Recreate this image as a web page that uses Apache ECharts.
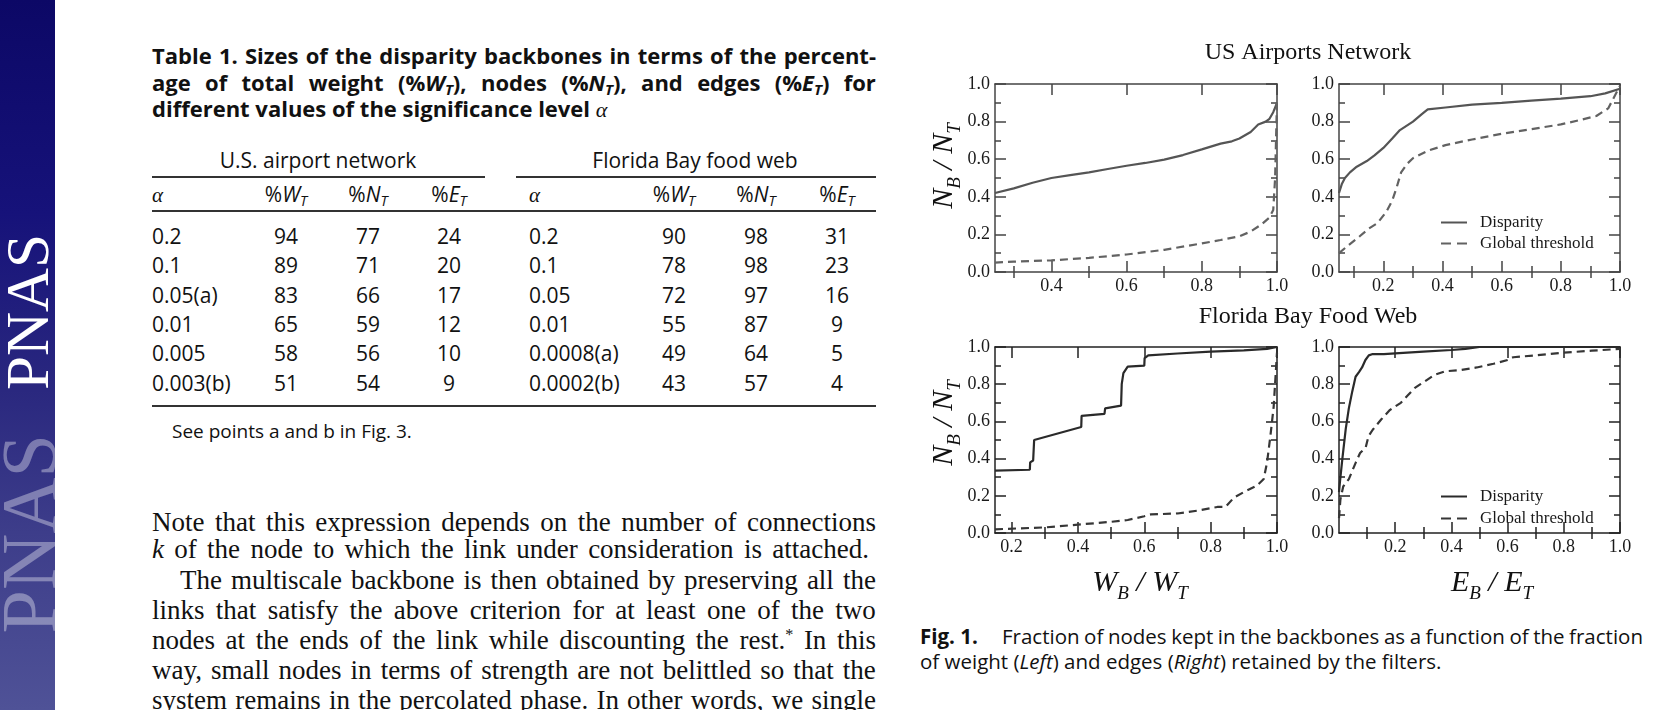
<!DOCTYPE html>
<html><head><meta charset="utf-8">
<script src="https://cdn.jsdelivr.net/npm/echarts@6/dist/echarts.min.js"></script>
<style>
html,body{margin:0;padding:0;width:1662px;height:710px;overflow:hidden;background:#fff;}
#chart{position:absolute;left:0;top:0;width:1662px;height:710px;z-index:2;pointer-events:none;}
.t{position:absolute;white-space:nowrap;color:#111;}
.hl{position:absolute;background:#333;}
#side{position:absolute;left:0;top:0;width:55px;height:710px;overflow:hidden;
 background:linear-gradient(to bottom,#0c0866 0%,#16127a 30%,#2a287f 55%,#3d3d8a 75%,#4f5297 100%);}
.pnas{position:absolute;left:0;width:55px;writing-mode:vertical-rl;transform:rotate(180deg);
 font-family:"Liberation Serif",serif;line-height:55px;}
sub{font-size:0.68em;vertical-align:-0.28em;line-height:0;}
sup{font-size:0.6em;vertical-align:0.55em;line-height:0;}
</style></head>
<body>
<div id="side"><div class="pnas" style="top:234px;font-size:61px;color:#ffffff">PNAS</div><div class="pnas" style="top:434px;font-size:78px;line-height:58px;color:rgba(255,255,255,0.36)">PNAS</div></div>
<div id="chart"></div>
<script>
// ---------- table data ----------
const alphaUS = ['0.2','0.1','0.05(a)','0.01','0.005','0.003(b)'];
const usWT = [94,89,83,65,58,51];
const usNT = [77,71,66,59,56,54];
const usET = [24,20,17,12,10,9];
const alphaFB = ['0.2','0.1','0.05','0.01','0.0008(a)','0.0002(b)'];
const fbWT = [90,78,72,55,49,43];
const fbNT = [98,98,97,87,64,57];
const fbET = [31,23,16,9,5,4];

// ---------- figure data: [fraction on x, N_B/N_T] ----------
const usWeightDisparity = [[0.25,0.42],[0.3,0.445],[0.35,0.475],[0.4,0.5],[0.45,0.515],[0.5,0.53],[0.55,0.548],[0.6,0.565],[0.65,0.58],[0.7,0.598],[0.75,0.622],[0.8,0.652],[0.85,0.683],[0.88,0.695],[0.9,0.71],[0.93,0.745],[0.95,0.785],[0.97,0.8],[0.98,0.815],[0.99,0.85],[1.0,0.9]];
const usWeightGlobal = [[0.25,0.05],[0.3,0.055],[0.4,0.062],[0.5,0.075],[0.6,0.093],[0.7,0.118],[0.8,0.152],[0.85,0.17],[0.9,0.19],[0.93,0.215],[0.96,0.255],[0.98,0.29],[0.99,0.33],[0.995,0.5],[0.998,0.75],[1.0,0.92]];
const usEdgeDisparity = [[0.05,0.42],[0.06,0.47],[0.07,0.5],[0.087,0.53],[0.11,0.56],[0.144,0.59],[0.17,0.62],[0.2,0.66],[0.23,0.71],[0.256,0.755],[0.3,0.8],[0.33,0.84],[0.35,0.865],[0.41,0.875],[0.5,0.89],[0.6,0.9],[0.7,0.912],[0.8,0.922],[0.9,0.935],[0.95,0.95],[1.0,0.975]];
const usEdgeGlobal = [[0.05,0.1],[0.08,0.14],[0.12,0.19],[0.15,0.23],[0.18,0.26],[0.21,0.32],[0.23,0.38],[0.245,0.45],[0.26,0.53],[0.28,0.575],[0.3,0.605],[0.35,0.645],[0.41,0.675],[0.5,0.705],[0.6,0.735],[0.7,0.76],[0.8,0.785],[0.87,0.81],[0.92,0.83],[0.96,0.87],[1.0,0.99]];
const fbWeightDisparity = [[0.15,0.335],[0.255,0.34],[0.256,0.38],[0.265,0.39],[0.268,0.5],[0.41,0.57],[0.411,0.63],[0.48,0.64],[0.482,0.67],[0.53,0.685],[0.532,0.8],[0.537,0.86],[0.55,0.895],[0.6,0.9],[0.601,0.94],[0.612,0.955],[0.7,0.965],[0.8,0.975],[0.9,0.982],[0.97,0.99],[1.0,1.0]];
const fbWeightGlobal = [[0.15,0.02],[0.3,0.03],[0.4,0.045],[0.5,0.06],[0.55,0.07],[0.6,0.09],[0.62,0.1],[0.7,0.105],[0.76,0.12],[0.82,0.14],[0.845,0.14],[0.87,0.19],[0.9,0.22],[0.94,0.255],[0.96,0.29],[0.97,0.38],[0.98,0.52],[0.99,0.68],[1.0,0.97]];
const fbEdgeDisparity = [[0.0,0.22],[0.003,0.27],[0.012,0.4],[0.024,0.56],[0.035,0.67],[0.047,0.76],[0.059,0.84],[0.071,0.865],[0.082,0.89],[0.094,0.93],[0.106,0.955],[0.12,0.962],[0.16,0.962],[0.2,0.966],[0.3,0.975],[0.4,0.984],[0.45,0.99],[0.5,1.0],[1.0,1.0]];
const fbEdgeGlobal = [[0.0,0.08],[0.005,0.18],[0.015,0.25],[0.035,0.29],[0.06,0.38],[0.075,0.43],[0.095,0.46],[0.105,0.52],[0.12,0.555],[0.15,0.61],[0.18,0.66],[0.22,0.7],[0.245,0.74],[0.27,0.78],[0.29,0.8],[0.34,0.85],[0.38,0.87],[0.43,0.875],[0.49,0.89],[0.55,0.91],[0.6,0.93],[0.62,0.945],[0.7,0.955],[0.8,0.97],[0.9,0.98],[1.0,0.99]];

// ---------- tick values ----------
const ticksUSWMajor = [0.4,0.6,0.8,1.0], ticksUSWMinor = [0.3,0.5,0.7,0.9];
const ticksUSEMajor = [0.2,0.4,0.6,0.8,1.0], ticksUSEMinor = [0.1,0.3,0.5,0.7,0.9];
const ticksFBWMajor = [0.2,0.4,0.6,0.8,1.0], ticksFBWMinor = [0.3,0.5,0.7,0.9];
const ticksFBEMajor = [0.2,0.4,0.6,0.8,1.0], ticksFBEMinor = [0.1,0.3,0.5,0.7,0.9];

// ---------- page text (HTML) ----------
function addLine(html, x, y, opts) {
  const o = Object.assign({lh: 28, font: '20px "Open Sans"', justify: 0, center: false}, opts || {});
  const d = document.createElement('div');
  d.className = 't';
  d.style.font = o.font;
  d.style.lineHeight = o.lh + 'px';
  d.style.height = o.lh + 'px';
  d.style.top = (y - o.lh / 2) + 'px';
  d.style.left = x + 'px';
  if (o.center) d.style.transform = 'translateX(-50%)';
  if (o.justify) {
    d.style.width = o.justify + 'px';
    d.style.display = 'flex';
    d.style.justifyContent = 'space-between';
    d.innerHTML = html.split(' ').map(s => '<span>' + s + '</span>').join('');
  } else d.innerHTML = html;
  document.body.appendChild(d);
}
function hline(x, y, w, h) {
  const d = document.createElement('div');
  d.className = 'hl';
  d.style.left = x + 'px'; d.style.top = y + 'px'; d.style.width = w + 'px'; d.style.height = h + 'px';
  document.body.appendChild(d);
}
const TB = 'bold 22px "Open Sans"';
addLine('Table 1. Sizes of the disparity backbones in terms of the percent-', 152, 55, {font: TB, justify: 724});
addLine('age of total weight (%<i>W<sub>T</sub></i>), nodes (%<i>N<sub>T</sub></i>), and edges (%<i>E<sub>T</sub></i>) for', 152, 82, {font: TB, justify: 724});
addLine('different values of the significance level <span style="font:italic 22px \'Liberation Serif\'">α</span>', 152, 108, {font: TB});

const TF = '21px "Open Sans"';
addLine('U.S. airport network', 318, 160, {font: TF, center: true});
addLine('Florida Bay food web', 695, 160, {font: TF, center: true});
hline(152, 176, 333, 1.5);
hline(516, 176, 360, 1.5);
const aH = '<span style="font:italic 21px \'Liberation Serif\'">α</span>';
addLine(aH, 152, 194, {font: TF});
addLine(aH, 529, 194, {font: TF});
const hdr = ['%<i>W<sub>T</sub></i>', '%<i>N<sub>T</sub></i>', '%<i>E<sub>T</sub></i>'];
const colUS = [286, 368, 449], colFB = [674, 756, 837];
hdr.forEach((h, i) => { addLine(h, colUS[i], 194, {font: TF, center: true}); addLine(h, colFB[i], 194, {font: TF, center: true}); });
hline(152, 210, 724, 1.5);
const rowY = [236, 265, 295, 324, 353, 383];
rowY.forEach((y, r) => {
  addLine(alphaUS[r], 152, y, {font: TF});
  [usWT, usNT, usET].forEach((arr, c) => addLine(String(arr[r]), colUS[c], y, {font: TF, center: true}));
  addLine(alphaFB[r], 529, y, {font: TF});
  [fbWT, fbNT, fbET].forEach((arr, c) => addLine(String(arr[r]), colFB[c], y, {font: TF, center: true}));
});
hline(152, 405, 724, 2);
addLine('See points a and b in Fig. 3.', 172, 431, {font: '19px "Open Sans"'});

const BF = '27px "Liberation Serif"';
addLine('Note that this expression depends on the number of connections', 152, 522, {font: BF, lh: 30, justify: 724});
addLine('<i>k</i> of the node to which the link under consideration is attached.', 152, 549, {font: BF, lh: 30, justify: 717});
addLine('The multiscale backbone is then obtained by preserving all the', 180, 580, {font: BF, lh: 30, justify: 696});
addLine('links that satisfy the above criterion for at least one of the two', 152, 610, {font: BF, lh: 30, justify: 724});
addLine('nodes at the ends of the link while discounting the rest.<sup>*</sup> In this', 152, 640, {font: BF, lh: 30, justify: 724});
addLine('way, small nodes in terms of strength are not belittled so that the', 152, 670, {font: BF, lh: 30, justify: 724});
addLine('system remains in the percolated phase. In other words, we single', 152, 700, {font: BF, lh: 30, justify: 724});

const CF = '20.5px "Open Sans"';
addLine('<b>Fig. 1.</b>', 920, 636, {font: CF, lh: 26});
addLine('Fraction of nodes kept in the backbones as a function of the fraction', 1002, 636, {font: CF, lh: 26, justify: 641});
addLine('of weight (<i>Left</i>) and edges (<i>Right</i>) retained by the filters.', 920, 661, {font: CF, lh: 26});

// ---------- ECharts figure ----------
const panels = [
  {grid: {left: 995, top: 84, width: 282, height: 188}, xMin: 0.25, xMax: 1.0, major: ticksUSWMajor, minor: ticksUSWMinor, disp: usWeightDisparity, glob: usWeightGlobal, solid: '#555', dash: '#626262', frame: '#444'},
  {grid: {left: 1339, top: 84, width: 281, height: 188}, xMin: 0.05, xMax: 1.0, major: ticksUSEMajor, minor: ticksUSEMinor, disp: usEdgeDisparity, glob: usEdgeGlobal, solid: '#555', dash: '#626262', frame: '#444'},
  {grid: {left: 995, top: 347, width: 282, height: 186}, xMin: 0.15, xMax: 1.0, major: ticksFBWMajor, minor: ticksFBWMinor, disp: fbWeightDisparity, glob: fbWeightGlobal, solid: '#2a2a2a', dash: '#363636', frame: '#222'},
  {grid: {left: 1339, top: 347, width: 281, height: 186}, xMin: 0.0, xMax: 1.0, major: ticksFBEMajor, minor: ticksFBEMinor, disp: fbEdgeDisparity, glob: fbEdgeGlobal, solid: '#2a2a2a', dash: '#363636', frame: '#222'}
];
const LBL = {color: '#1a1a1a', fontFamily: 'Liberation Serif', fontSize: 18};
const grid = [], xAxis = [], yAxis = [], series = [];
panels.forEach((p, i) => {
  grid.push(Object.assign({containLabel: false}, p.grid));
  const line = {show: true, onZero: false, lineStyle: {color: p.frame, width: 1.5}};
  const ts = {color: p.frame, width: 1.5};
  const xb = {gridIndex: i, type: 'value', min: p.xMin, max: p.xMax, splitLine: {show: false}};
  const xMain = xAxis.length;
  xAxis.push(Object.assign({}, xb, {position: 'bottom', axisLine: line,
    axisTick: {show: true, inside: true, length: 11, lineStyle: ts, customValues: p.major},
    axisLabel: Object.assign({show: true, customValues: p.major, margin: 5, formatter: v => (+v).toFixed(1)}, LBL)}));
  xAxis.push(Object.assign({}, xb, {position: 'bottom', axisLine: {show: false},
    axisTick: {show: true, inside: true, length: 6, lineStyle: ts, customValues: p.minor}, axisLabel: {show: false}}));
  xAxis.push(Object.assign({}, xb, {position: 'top', axisLine: line,
    axisTick: {show: true, inside: true, length: 11, lineStyle: ts, customValues: p.major}, axisLabel: {show: false}}));
  xAxis.push(Object.assign({}, xb, {position: 'top', axisLine: {show: false},
    axisTick: {show: true, inside: true, length: 6, lineStyle: ts, customValues: p.minor}, axisLabel: {show: false}}));
  const yb = {gridIndex: i, type: 'value', min: 0, max: 1, interval: 0.2, splitLine: {show: false}, minorSplitLine: {show: false},
    minorTick: {show: true, splitNumber: 2, length: 6, lineStyle: ts}};
  const yMain = yAxis.length;
  yAxis.push(Object.assign({}, yb, {position: 'left', axisLine: line,
    axisTick: {show: true, inside: true, length: 11, lineStyle: ts},
    axisLabel: Object.assign({show: true, margin: 5, formatter: v => (+v).toFixed(1)}, LBL)}));
  yAxis.push(Object.assign({}, yb, {position: 'right', axisLine: line,
    axisTick: {show: true, inside: true, length: 11, lineStyle: ts}, axisLabel: {show: false}}));
  series.push({type: 'line', name: 'Disparity', xAxisIndex: xMain, yAxisIndex: yMain, data: p.disp, symbol: 'none',
    lineStyle: {color: p.solid, width: 2.2}, itemStyle: {color: p.solid}, z: 3, silent: true});
  series.push({type: 'line', name: 'Global threshold', xAxisIndex: xMain, yAxisIndex: yMain, data: p.glob, symbol: 'none',
    lineStyle: {color: p.dash, width: 2.2, type: [8, 5]}, itemStyle: {color: p.dash}, z: 3, silent: true});
});
function legendAt(top, gap, c1, c2) {
  return {orient: 'vertical', left: 1440, top: top, padding: 0, itemWidth: 26, itemHeight: 12, itemGap: gap, selectedMode: false,
    textStyle: {fontFamily: 'Liberation Serif', fontSize: 17, color: '#1a1a1a', padding: [0, 0, 0, 8]},
    itemStyle: {opacity: 0},
    data: [{name: 'Disparity', lineStyle: {color: c1, width: 2, type: 'solid'}},
           {name: 'Global threshold', lineStyle: {color: c2, width: 2, type: [10, 6]}}]};
}
const mkName = (a, b, c, d) => '{m|' + a + '}{s|' + b + '}{m| / ' + c + '}{s|' + d + '}';
const rich = {m: {fontStyle: 'italic', fontSize: 30, fontFamily: 'Liberation Serif', fill: '#111', lineHeight: 32},
              s: {fontStyle: 'italic', fontSize: 19, fontFamily: 'Liberation Serif', fill: '#111', lineHeight: 20, padding: [22, 0, 0, 0]}};
function title(txt, x, y) {
  return {type: 'text', x: x, y: y, silent: true, style: {text: txt, fill: '#111', fontSize: 24, fontFamily: 'Liberation Serif', align: 'center', verticalAlign: 'middle'}};
}
function axisName(txt, x, y, rot) {
  return {type: 'text', x: x, y: y, rotation: rot, silent: true, style: {text: txt, rich: rich, align: 'center', verticalAlign: 'middle'}};
}
const chart = echarts.init(document.getElementById('chart'), null, {renderer: 'canvas'});
chart.setOption({
  animation: false,
  backgroundColor: 'transparent',
  grid: grid, xAxis: xAxis, yAxis: yAxis, series: series,
  legend: [legendAt(214, 4, '#555', '#626262'), legendAt(488, 5, '#2a2a2a', '#363636')],
  graphic: [
    title('US Airports Network', 1308, 53),
    title('Florida Bay Food Web', 1308, 317),
    axisName(mkName('N', 'B', 'N', 'T'), 944, 166, Math.PI / 2),
    axisName(mkName('N', 'B', 'N', 'T'), 944, 423, Math.PI / 2),
    axisName(mkName('W', 'B', 'W', 'T'), 1140, 583, 0),
    axisName(mkName('E', 'B', 'E', 'T'), 1492, 583, 0)
  ]
});
</script>
</body></html>
